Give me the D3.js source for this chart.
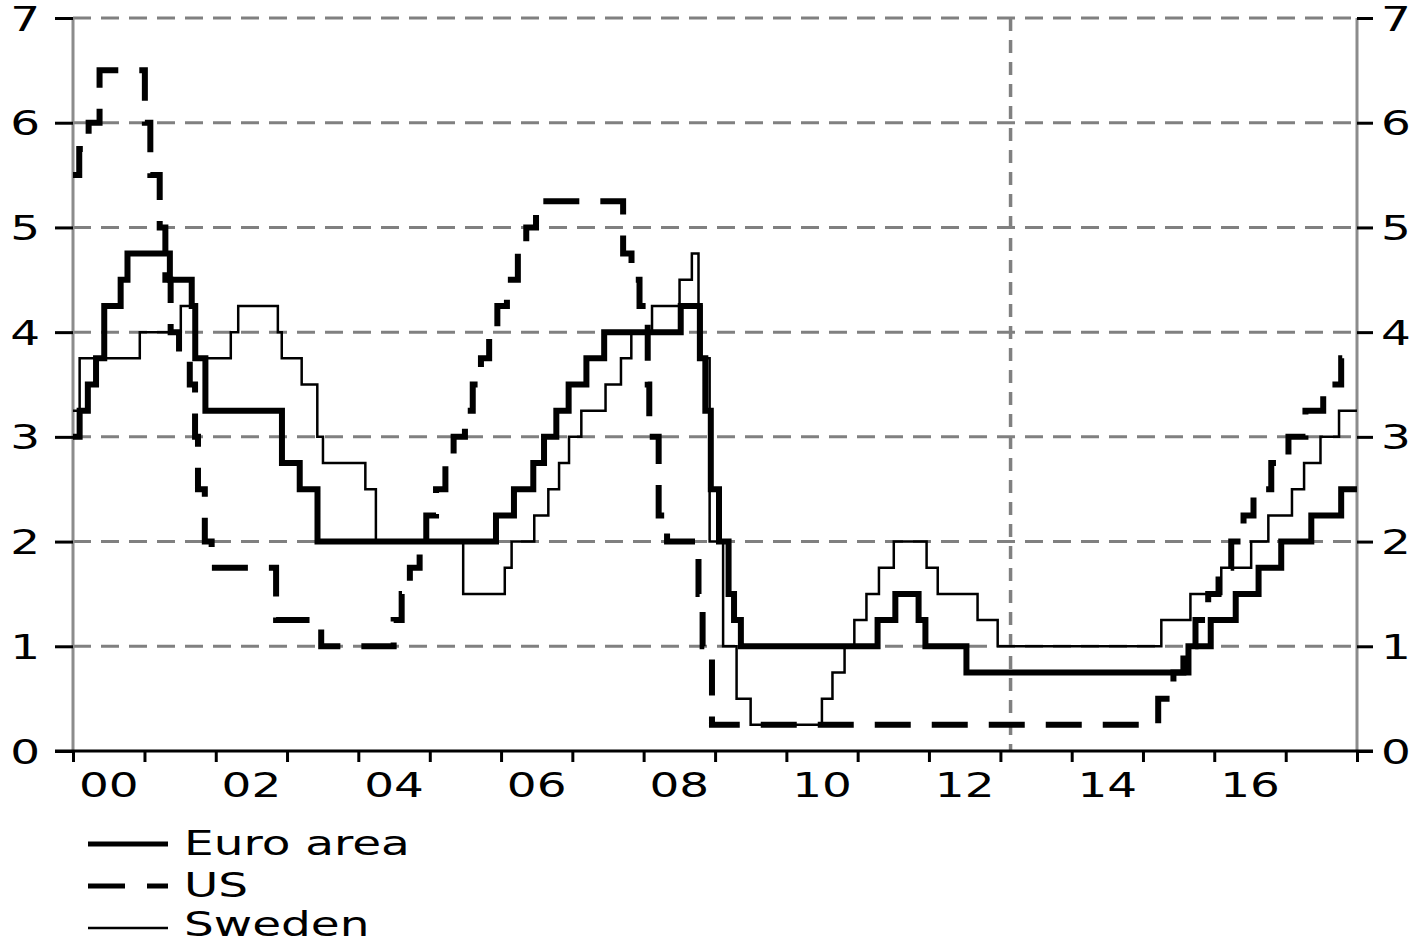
<!DOCTYPE html>
<html>
<head>
<meta charset="utf-8">
<script src="https://cdn.jsdelivr.net/npm/d3@7"></script>
<style>
  body { margin: 0; background: #fff; }
  svg text { font-family: "DejaVu Sans", Verdana, sans-serif; font-size: 34px; fill: #000; }
</style>
</head>
<body>
<svg id="chart" width="1419" height="944"></svg>
<script>
// policy rates, step changes [date, percent]
const euroArea = [
  ["2000-01-01", 3.0], ["2000-02-04", 3.25], ["2000-03-17", 3.5], ["2000-04-28", 3.75],
  ["2000-06-09", 4.25], ["2000-09-01", 4.5], ["2000-10-06", 4.75], ["2001-05-11", 4.5],
  ["2001-08-31", 4.25], ["2001-09-18", 3.75], ["2001-11-09", 3.25], ["2002-12-06", 2.75],
  ["2003-03-07", 2.5], ["2003-06-06", 2.0], ["2005-12-06", 2.25], ["2006-03-08", 2.5],
  ["2006-06-15", 2.75], ["2006-08-09", 3.0], ["2006-10-11", 3.25], ["2006-12-13", 3.5],
  ["2007-03-14", 3.75], ["2007-06-13", 4.0], ["2008-07-09", 4.25], ["2008-10-15", 3.75],
  ["2008-11-12", 3.25], ["2008-12-10", 2.5], ["2009-01-21", 2.0], ["2009-03-11", 1.5],
  ["2009-04-08", 1.25], ["2009-05-13", 1.0], ["2011-04-13", 1.25], ["2011-07-13", 1.5],
  ["2011-11-09", 1.25], ["2011-12-14", 1.0], ["2012-07-11", 0.75], ["2015-08-22", 1.0],
  ["2015-12-14", 1.25], ["2016-04-20", 1.5], ["2016-08-15", 1.75], ["2016-12-09", 2.0],
  ["2017-05-12", 2.25], ["2017-10-12", 2.5], ["2018-01-01", 2.5]
];

const us = [
  ["2000-01-01", 5.5], ["2000-02-02", 5.75], ["2000-03-21", 6.0], ["2000-05-16", 6.5],
  ["2001-01-03", 6.0], ["2001-01-31", 5.5], ["2001-03-20", 5.0], ["2001-04-18", 4.5],
  ["2001-05-15", 4.0], ["2001-06-27", 3.75], ["2001-08-21", 3.5], ["2001-09-17", 3.0],
  ["2001-10-02", 2.5], ["2001-11-06", 2.0], ["2001-12-11", 1.75], ["2002-11-06", 1.25],
  ["2003-06-25", 1.0], ["2004-06-30", 1.25], ["2004-08-10", 1.5], ["2004-09-21", 1.75],
  ["2004-11-10", 2.0], ["2004-12-14", 2.25], ["2005-02-02", 2.5], ["2005-03-22", 2.75],
  ["2005-05-03", 3.0], ["2005-06-30", 3.25], ["2005-08-09", 3.5], ["2005-09-20", 3.75],
  ["2005-11-01", 4.0], ["2005-12-13", 4.25], ["2006-01-31", 4.5], ["2006-03-28", 4.75],
  ["2006-05-10", 5.0], ["2006-06-29", 5.25], ["2007-09-18", 4.75], ["2007-10-31", 4.5],
  ["2007-12-11", 4.25], ["2008-01-22", 3.5], ["2008-01-30", 3.0], ["2008-03-18", 2.25],
  ["2008-04-30", 2.0], ["2008-10-08", 1.5], ["2008-10-29", 1.0], ["2008-12-16", 0.25],
  ["2015-03-20", 0.5], ["2015-06-06", 0.75], ["2015-07-27", 1.0], ["2015-09-27", 1.25],
  ["2015-12-01", 1.5], ["2016-01-23", 1.75], ["2016-03-28", 2.0], ["2016-05-30", 2.25],
  ["2016-07-20", 2.5], ["2016-10-19", 2.75], ["2017-01-15", 3.0], ["2017-04-12", 3.25],
  ["2017-07-12", 3.5], ["2017-10-12", 3.75], ["2018-01-01", 3.75]
];

const sweden = [
  ["2000-01-01", 3.25], ["2000-02-04", 3.75], ["2000-12-08", 4.0], ["2001-07-06", 4.25],
  ["2001-09-17", 3.75], ["2002-03-19", 4.0], ["2002-04-26", 4.25], ["2002-11-15", 4.0],
  ["2002-12-05", 3.75], ["2003-03-17", 3.5], ["2003-06-05", 3.0], ["2003-07-04", 2.75],
  ["2004-02-06", 2.5], ["2004-03-31", 2.0], ["2005-06-21", 1.5], ["2006-01-20", 1.75],
  ["2006-02-24", 2.0], ["2006-06-20", 2.25], ["2006-08-31", 2.5], ["2006-10-25", 2.75],
  ["2006-12-15", 3.0], ["2007-02-16", 3.25], ["2007-06-20", 3.5], ["2007-09-07", 3.75],
  ["2007-10-30", 4.0], ["2008-02-13", 4.25], ["2008-07-03", 4.5], ["2008-09-04", 4.75],
  ["2008-10-08", 4.25], ["2008-10-23", 3.75], ["2008-12-04", 2.0], ["2009-02-11", 1.0],
  ["2009-04-21", 0.5], ["2009-07-02", 0.25], ["2010-07-02", 0.5], ["2010-08-25", 0.75],
  ["2010-10-26", 1.0], ["2010-12-15", 1.25], ["2011-02-15", 1.5], ["2011-04-20", 1.75],
  ["2011-07-05", 2.0], ["2011-12-20", 1.75], ["2012-02-15", 1.5], ["2012-09-06", 1.25],
  ["2012-12-18", 1.0], ["2015-04-05", 1.25], ["2015-09-01", 1.5], ["2016-02-06", 1.75],
  ["2016-07-08", 2.0], ["2016-10-04", 2.25], ["2017-02-02", 2.5], ["2017-04-05", 2.75],
  ["2017-06-28", 3.0], ["2017-10-01", 3.25], ["2018-01-01", 3.25]
];

const yTicks = [0, 1, 2, 3, 4, 5, 6, 7];
const xLabels = ["00", "02", "04", "06", "08", "10", "12", "14", "16"];
const forecastStart = "2013-02-22";
const legendItems = [
  { name: "Euro area", data: euroArea, width: 6, dash: null, legendWidth: 5 },
  { name: "US", data: us, width: 6, dash: "36,21", legendWidth: 5 },
  { name: "Sweden", data: sweden, width: 2.5, dash: null, legendWidth: 2.5 }
];

const width = 1419;
const height = 944;
const plot = { left: 73, right: 1357, top: 18, bottom: 751 };
const stretch = 1.38; // text in the original is horizontally widened

const parse = d3.timeParse("%Y-%m-%d");
const svg = d3.select("#chart");

const x = d3.scaleTime()
  .domain([new Date(2000, 0, 1), new Date(2018, 0, 1)])
  .range([plot.left, plot.right]);

const y = d3.scaleLinear()
  .domain([0, 7])
  .range([plot.bottom, plot.top]);

function label(g, tx, ty, txt, anchor) {
  g.append("text")
    .attr("transform", `translate(${tx},${ty}) scale(${stretch},1)`)
    .attr("text-anchor", anchor)
    .text(txt);
}

// horizontal gridlines
svg.append("g")
  .selectAll("line")
  .data(yTicks.filter(d => d > 0))
  .join("line")
  .attr("x1", plot.left).attr("x2", plot.right)
  .attr("y1", d => y(d)).attr("y2", d => y(d))
  .attr("stroke", "#808080")
  .attr("stroke-width", 3)
  .attr("stroke-dasharray", "18,10");

// vertical forecast line
svg.append("line")
  .attr("x1", x(parse(forecastStart))).attr("x2", x(parse(forecastStart)))
  .attr("y1", plot.top).attr("y2", plot.bottom)
  .attr("stroke", "#808080")
  .attr("stroke-width", 3.5)
  .attr("stroke-dasharray", "13,9");

// side axes (gray) with black ticks
[plot.left, plot.right].forEach(px => {
  svg.append("line")
    .attr("x1", px).attr("x2", px)
    .attr("y1", plot.top).attr("y2", plot.bottom)
    .attr("stroke", "#8c8c8c")
    .attr("stroke-width", 3);
});

const yAxisL = d3.axisLeft(y).tickValues(yTicks).tickSize(18).tickFormat("");
const yAxisR = d3.axisRight(y).tickValues(yTicks).tickSize(16).tickFormat("");
const gl = svg.append("g").attr("transform", `translate(${plot.left},0)`).call(yAxisL);
const gr = svg.append("g").attr("transform", `translate(${plot.right},0)`).call(yAxisR);
[gl, gr].forEach(g => {
  g.select(".domain").remove();
  g.selectAll(".tick line").attr("stroke", "#000").attr("stroke-width", 3);
});

const tickLabels = svg.append("g");
yTicks.forEach(v => {
  label(tickLabels, 40, y(v) + 12.5, v, "end");
  label(tickLabels, 1381, y(v) + 12.5, v, "start");
});

// bottom axis: yearly ticks, labels every second year centred in the year
const years = d3.range(2000, 2019).map(yr => new Date(yr, 0, 1));
const xAxis = d3.axisBottom(x).tickValues(years).tickSize(11).tickFormat("");
const gx = svg.append("g").attr("transform", `translate(0,${plot.bottom})`).call(xAxis);
gx.select(".domain").remove();
gx.selectAll(".tick line").attr("stroke", "#000").attr("stroke-width", 3);
svg.append("line")
  .attr("x1", 55).attr("x2", 1373)
  .attr("y1", plot.bottom).attr("y2", plot.bottom)
  .attr("stroke", "#000").attr("stroke-width", 3);

xLabels.forEach(lab => {
  const yr = 2000 + +lab;
  const mid = (x(new Date(yr, 0, 1)) + x(new Date(yr + 1, 0, 1))) / 2;
  label(tickLabels, mid, 797, lab, "middle");
});

// series
const line = d3.line()
  .x(d => x(parse(d[0])))
  .y(d => y(d[1]))
  .curve(d3.curveStepAfter);

const lines = svg.append("g");
legendItems.forEach(s => {
  lines.append("path")
    .datum(s.data)
    .attr("d", line)
    .attr("fill", "none")
    .attr("stroke", "#000")
    .attr("stroke-width", s.width)
    .attr("stroke-dasharray", s.dash);
});

// legend
const legend = svg.append("g");
legendItems.forEach((s, i) => {
  const ly = 844 + i * 42;
  legend.append("line")
    .attr("x1", 88).attr("x2", 168)
    .attr("y1", ly).attr("y2", ly)
    .attr("stroke", "#000")
    .attr("stroke-width", s.legendWidth)
    .attr("stroke-dasharray", s.dash ? "37,22" : null);
  label(legend, 184, ly + (i === 2 ? 8 : 11), s.name, "start");
});
</script>
</body>
</html>
